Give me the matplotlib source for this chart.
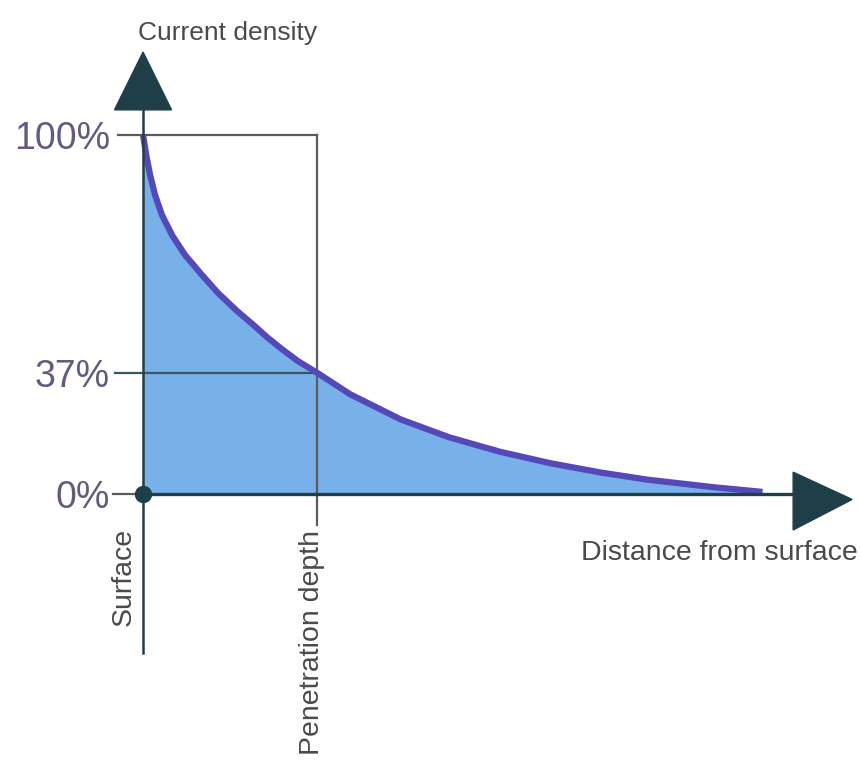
import matplotlib.pyplot as plt
from matplotlib.patches import Polygon

plt.rcParams['font.family'] = ['Liberation Sans', 'DejaVu Sans']

# distance in units of penetration depth, current density in %
distance = [0.0, 0.02, 0.04, 0.069, 0.109, 0.167, 0.241, 0.339, 0.431, 0.54,
            0.632, 0.715, 0.8, 0.891, 1.0, 1.19, 1.48, 1.76, 2.05, 2.34,
            2.63, 2.9, 3.28, 3.56]
density = [100, 94, 89, 83.3, 77.7, 72.1, 66.6, 61.0, 56.0, 51.0,
           47.2, 43.6, 40.3, 37.0, 33.8, 27.8, 20.8, 15.8, 11.8, 8.6,
           6.0, 4.0, 1.9, 0.6]

tick_pos = [0, 33.8, 100]
tick_labels = ["0%", "37%", "100%"]
pen_depth = 1.0

dark = "#1f3f48"
grey = "#5c5c5c"
label_col = "#5f5c80"
text_col = "#4a4a4a"

fig = plt.figure(figsize=(8.61, 7.63), dpi=100)
ax = fig.add_axes([0, 0, 1, 1])
ax.set_xlim(-0.822, 4.126)
ax.set_ylim(-74.9, 137.6)
ax.axis("off")

# filled profile + curve
ax.fill_between(distance, density, 0, color="#78b0ea", lw=0, zorder=1)
ax.plot(distance, density, color="#5549b8", lw=4.5, solid_capstyle="butt",
        solid_joinstyle="round", zorder=3)

# guide lines
ax.plot([-0.144, pen_depth], [100, 100], color=grey, lw=1.6, zorder=2)
ax.plot([pen_depth, pen_depth], [100, -8.5], color=grey, lw=1.6, zorder=2)
ax.plot([-0.16, pen_depth], [tick_pos[1], tick_pos[1]], color="#3b5560", lw=1.6, zorder=2)
ax.plot([-0.17, 0], [0, 0], color=grey, lw=1.6, zorder=2)

# axes
ax.plot([0, 0], [-44.3, 108], color=dark, lw=1.8, zorder=4)
ax.plot([0, 3.74], [0, 0], color=dark, lw=2.4, zorder=4)
ax.add_patch(Polygon([[-0.164, 107], [0.164, 107], [0, 123.1]], closed=True,
                     color=dark, zorder=5))
ax.add_patch(Polygon([[3.736, 6.1], [3.736, -10.0], [4.075, -1.5]], closed=True,
                     color=dark, zorder=5))
ax.plot(0, 0, "o", ms=11.5, color=dark, zorder=6)

# tick labels
for pos, lab in zip(tick_pos, tick_labels):
    ax.text(-0.19, pos - 3.9, lab, ha="right", va="baseline", fontsize=27,
            color=label_col)

ax.text(-0.029, 126.5, "Current density", ha="left", va="baseline",
        fontsize=19, color=text_col)
ax.text(4.109, -18.4, "Distance from surface", ha="right", va="baseline",
        fontsize=20.5, color=text_col)
ax.text(-0.109, -9.5, "Surface", rotation=90, ha="center", va="top",
        fontsize=20.5, color=text_col)
ax.text(0.971, -10, "Penetration depth", rotation=90, ha="center", va="top",
        fontsize=20.5, color=text_col)

fig.savefig("out.png", dpi=100)
